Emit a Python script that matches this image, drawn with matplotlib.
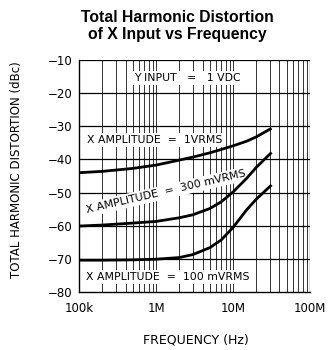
import matplotlib.pyplot as plt

# --- DATA ---
freq = [1e5, 2e5, 5e5, 1e6, 2e6, 3e6, 5e6, 7e6, 1e7, 1.5e7, 2e7, 3.16e7]
thd_1vrms = [-44.0, -43.6, -42.7, -41.7, -40.2, -39.3, -38.0, -37.0, -35.9, -34.5, -33.2, -30.6]
thd_300mv = [-60.1, -59.8, -59.2, -58.7, -57.6, -56.7, -54.8, -52.8, -49.8, -45.7, -42.4, -37.9]
thd_100mv = [-70.4, -70.4, -70.3, -70.1, -69.6, -68.7, -66.6, -64.3, -60.5, -55.2, -52.0, -47.7]

xticks = [1e5, 1e6, 1e7, 1e8]
xtick_labels = ["100k", "1M", "10M", "100M"]
yticks = [-80, -70, -60, -50, -40, -30, -20, -10]

FONT = "DejaVu Sans"

fig = plt.figure(figsize=(3.28, 3.5), dpi=100)
ax = fig.add_axes([0.2418, 0.1657, 0.7034, 0.6629])

ax.set_xscale("log")
ax.set_xlim(1e5, 1e8)
ax.set_ylim(-80, -10)

# log grid: every 1..9 x decade, plus 10 dB horizontals
for dec in [1e5, 1e6, 1e7]:
    for m in range(1, 10):
        ax.axvline(dec * m, color="0.2", lw=0.7, zorder=1)
ax.axvline(1e8, color="black", lw=0.9, zorder=1)
for y in yticks[1:]:
    ax.axhline(y, color="black", lw=0.9, zorder=1)

# curves
for vals in [thd_1vrms, thd_300mv, thd_100mv]:
    ax.plot(freq, vals, color="black", lw=2.0, solid_capstyle="butt", zorder=4)

box = dict(facecolor="white", edgecolor="none", pad=1.5)
ax.text(2.55e6, -15.4, "Y INPUT   =   1 VDC", fontsize=7.8, family=FONT,
        ha="center", va="center", bbox=box, zorder=3)
ax.text(9.5e5, -34.1, "X AMPLITUDE  =  1VRMS", fontsize=7.8, family=FONT,
        ha="center", va="center", bbox=box, zorder=3)
ax.text(1.34e6, -49.8, "X AMPLITUDE  =  300 mVRMS", fontsize=7.8, family=FONT,
        ha="center", va="center", rotation=13, rotation_mode="anchor",
        bbox=box, zorder=3)
ax.text(1.42e6, -75.4, "X AMPLITUDE  =  100 mVRMS", fontsize=7.8, family=FONT,
        ha="center", va="center", bbox=box, zorder=3)

ax.set_xticks(xticks)
ax.set_xticklabels(xtick_labels, family=FONT, fontsize=8.5)
ax.set_yticks(yticks)
ax.set_yticklabels([f"\u2212{abs(v)}" for v in yticks], family=FONT, fontsize=8.5)
ax.minorticks_off()
ax.tick_params(axis="both", length=0)
ax.tick_params(axis="x", pad=7)
ax.tick_params(axis="y", pad=5)

for side in ["top", "right"]:
    ax.spines[side].set_visible(False)
for side in ["left", "bottom"]:
    ax.spines[side].set_linewidth(1.0)

ax.set_xlabel("FREQUENCY (Hz)", family=FONT, fontsize=9)
ax.xaxis.set_label_coords(0.506, -0.18)
ax.set_ylabel("TOTAL HARMONIC DISTORTION (dBc)", family=FONT, fontsize=8.5)
ax.yaxis.set_label_coords(-0.245, 0.526)

fig.text(177 / 328, 1 - 18 / 350, "Total Harmonic Distortion", family="Liberation Sans",
         fontsize=11.3, fontweight="bold", ha="center", va="center")
fig.text(177 / 328, 1 - 35 / 350, "of X Input vs Frequency", family="Liberation Sans",
         fontsize=11.3, fontweight="bold", ha="center", va="center")

fig.savefig("out.png", dpi=100)
